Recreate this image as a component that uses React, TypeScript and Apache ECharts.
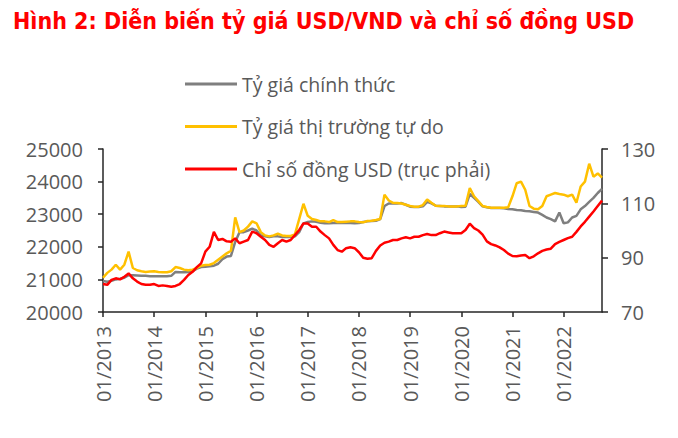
import React, { useEffect, useRef } from "react";
import * as echarts from "echarts";

// Monthly observations, 01/2013 .. 10/2022
const startYear = 2013;
const monthCount = 118;

// Tỷ giá chính thức (VND/USD)
const officialRate = [
  20950, 20930, 20960, 21000, 21020, 21050, 21130, 21130, 21120, 21110, 21110, 21100,
  21100, 21100, 21100, 21100, 21110, 21230, 21220, 21220, 21230, 21250, 21330, 21380,
  21390, 21400, 21420, 21480, 21620, 21700, 21720, 22150, 22450, 22450, 22500, 22560,
  22500, 22350, 22320, 22300, 22320, 22320, 22300, 22300, 22300, 22320, 22450, 22720,
  22760, 22780, 22770, 22740, 22720, 22720, 22730, 22730, 22730, 22730, 22730, 22720,
  22730, 22760, 22780, 22790, 22800, 22850, 23250, 23330, 23330, 23330, 23340, 23290,
  23230, 23220, 23220, 23240, 23380, 23330, 23260, 23250, 23240, 23240, 23240, 23240,
  23220, 23230, 23620, 23500, 23380, 23240, 23210, 23190, 23190, 23190, 23180, 23160,
  23150, 23130, 23120, 23100, 23090, 23070, 23050, 22980, 22900, 22850, 22780, 23050,
  22720, 22750, 22900, 22950, 23150, 23250, 23380, 23500, 23650, 23780,
];

// Tỷ giá thị trường tự do (VND/USD)
const freeMarketRate = [
  21050, 21200, 21300, 21450, 21300, 21450, 21850, 21350, 21280, 21250, 21230, 21240,
  21250, 21230, 21220, 21220, 21250, 21380, 21350, 21300, 21280, 21300, 21350, 21420,
  21440, 21450, 21500, 21600, 21700, 21800, 21880, 22900, 22450, 22500, 22620, 22780,
  22720, 22450, 22350, 22320, 22350, 22400, 22350, 22330, 22330, 22380, 22850, 23320,
  22950, 22850, 22820, 22780, 22780, 22760, 22820, 22760, 22760, 22770, 22780, 22780,
  22760, 22750, 22790, 22800, 22820, 22850, 23600, 23420, 23350, 23340, 23330, 23290,
  23250, 23230, 23230, 23280, 23450, 23350, 23260, 23250, 23250, 23240, 23240, 23240,
  23250, 23260, 23800, 23550, 23400, 23250, 23220, 23200, 23200, 23200, 23200, 23210,
  23550, 23950, 24000, 23750, 23250, 23170, 23150, 23250, 23550, 23600, 23650, 23620,
  23600, 23550, 23600, 23350, 23850, 24000, 24550, 24150, 24250, 24120,
];

// Chỉ số đồng USD (right axis)
const usdIndex = [
  80.3, 80.0, 81.8, 82.4, 82.0, 83.0, 84.2, 82.4, 81.2, 80.3, 80.0, 80.0,
  80.3, 79.6, 79.8, 79.6, 79.3, 79.6, 80.3, 81.8, 83.6, 84.8, 86.5, 87.9,
  92.2, 94.0, 99.5, 96.5, 96.9, 96.0, 95.9, 97.1, 95.3, 95.9, 96.5, 99.6,
  99.0, 97.7, 96.5, 94.7, 94.0, 95.3, 96.5, 95.9, 96.5, 98.3, 100.2, 102.6,
  102.6, 101.4, 101.4, 99.6, 98.3, 97.1, 94.7, 92.8, 92.2, 93.5, 93.8, 93.5,
  92.0, 90.0, 89.6, 89.8, 92.5, 94.5, 95.5, 95.9, 96.5, 96.5, 97.1, 97.5,
  97.1, 97.7, 97.7, 98.3, 98.7, 98.3, 98.3, 99.0, 99.6, 99.3, 99.0, 99.0,
  99.0, 100.2, 102.5, 100.9, 100.0, 98.5, 96.0, 95.0, 94.5, 93.8, 92.8, 91.5,
  90.6, 90.5, 90.8, 91.0, 89.8, 90.5, 91.6, 92.5, 93.0, 93.3, 95.0, 95.8,
  96.5, 97.2, 97.7, 99.5, 101.5, 103.2, 105.1, 107.0, 109.0, 111.0,
];

const seriesNames = [
  "Tỷ giá chính thức",
  "Tỷ giá thị trường tự do",
  "Chỉ số đồng USD (trục phải)",
];
const seriesColors = ["#7F7F7F", "#FFC000", "#FF0000"];
const titleText = "Hình 2: Diễn biến tỷ giá USD/VND và chỉ số đồng USD";

const categories: string[] = [];
for (let i = 0; i < monthCount; i++) {
  const y = startYear + Math.floor(i / 12);
  const m = (i % 12) + 1;
  categories.push((m < 10 ? "0" : "") + m + "/" + y);
}

const FONT = '"Open Sans", "Noto Sans", sans-serif';
const LABEL_COLOR = "#595959";
const AXIS_COLOR = "#262626";

export default function App() {
  const ref = useRef<HTMLDivElement>(null);
  useEffect(() => {
    document.body.style.margin = "0";
    if (!ref.current) return;
    const chart = echarts.init(ref.current, undefined, { renderer: "svg" });
    const yearOnly = (idx: number) => idx % 12 === 0;
    chart.setOption({
      animation: false,
      backgroundColor: "#ffffff",
      title: {
        text: titleText,
        left: 8,
        top: 4,
        textStyle: {
          color: "#FF0000",
          fontSize: 23,
          fontWeight: "bold",
          fontFamily: '"Liberation Sans Narrow", "DejaVu Sans Condensed", "Noto Sans", sans-serif',
        },
      },
      legend: {
        orient: "vertical",
        left: 185,
        top: 74,
        padding: 0,
        itemWidth: 52,
        itemHeight: 3,
        itemGap: 22.5,
        icon: "rect",
        data: seriesNames,
        textStyle: {
          color: LABEL_COLOR,
          fontSize: 19.5,
          lineHeight: 20,
          fontFamily: FONT,
        },
      },
      grid: { left: 103, right: 76, top: 149, bottom: 126, containLabel: false },
      xAxis: {
        type: "category",
        data: categories,
        boundaryGap: false,
        axisLine: { show: true, lineStyle: { color: AXIS_COLOR, width: 1.5 } },
        axisTick: {
          show: true,
          interval: (idx: number) => yearOnly(idx),
          length: 5,
          lineStyle: { color: AXIS_COLOR, width: 1.5 },
        },
        axisLabel: {
          interval: (idx: number) => yearOnly(idx),
          rotate: 90,
          margin: 14,
          color: LABEL_COLOR,
          fontSize: 20,
          fontFamily: FONT,
        },
        splitLine: { show: false },
      },
      yAxis: [
        {
          type: "value",
          min: 20000,
          max: 25000,
          interval: 1000,
          position: "left",
          axisLine: { show: true, lineStyle: { color: AXIS_COLOR, width: 1.5 } },
          axisTick: { show: true, length: 5, lineStyle: { color: AXIS_COLOR, width: 1.5 } },
          axisLabel: {
            color: LABEL_COLOR,
            fontSize: 20,
            fontFamily: FONT,
            margin: 20,
            formatter: (v: number) => String(v),
          },
          splitLine: { show: false },
        },
        {
          type: "value",
          min: 70,
          max: 130,
          interval: 20,
          position: "right",
          axisLine: { show: true, lineStyle: { color: AXIS_COLOR, width: 1.5 } },
          axisTick: { show: true, length: 6, lineStyle: { color: AXIS_COLOR, width: 1.5 } },
          axisLabel: {
            color: LABEL_COLOR,
            fontSize: 20,
            fontFamily: FONT,
            margin: 19,
            formatter: (v: number) => String(v),
          },
          splitLine: { show: false },
        },
      ],
      series: [
        {
          name: seriesNames[0],
          type: "line",
          yAxisIndex: 0,
          data: officialRate,
          symbol: "none",
          color: seriesColors[0],
          lineStyle: { width: 2.5, color: seriesColors[0] },
        },
        {
          name: seriesNames[1],
          type: "line",
          yAxisIndex: 0,
          data: freeMarketRate,
          symbol: "none",
          color: seriesColors[1],
          lineStyle: { width: 2.5, color: seriesColors[1] },
        },
        {
          name: seriesNames[2],
          type: "line",
          yAxisIndex: 1,
          data: usdIndex,
          symbol: "none",
          color: seriesColors[2],
          lineStyle: { width: 2.5, color: seriesColors[2] },
        },
      ],
    });
    return () => chart.dispose();
  }, []);
  return (
    <div
      ref={ref}
      style={{ position: "absolute", left: 0, top: 0, width: 678, height: 438 }}
    />
  );
}
